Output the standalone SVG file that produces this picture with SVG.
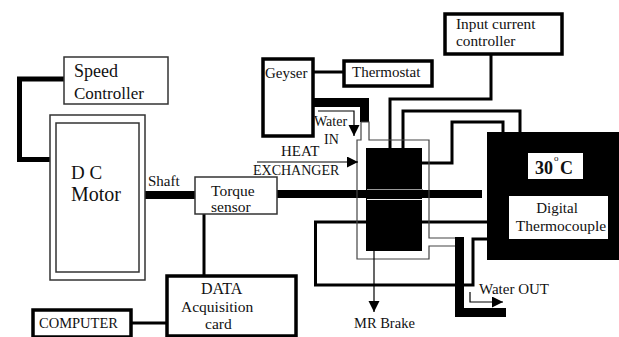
<svg xmlns="http://www.w3.org/2000/svg" width="619" height="337" viewBox="0 0 619 337">
<style>
text{font-family:"Liberation Serif","Times New Roman",serif;fill:#111}
.n{fill:#fff;stroke:#333;stroke-width:1.5}
.b{fill:#fff;stroke:#000;stroke-width:3.5}
.w{fill:none;stroke:#000;stroke-linejoin:miter}
.t{fill:none;stroke:#444;stroke-width:1.2}
.a{fill:none;stroke:#000;stroke-width:1.2}
</style>
<defs>
<marker id="h" markerWidth="12" markerHeight="12" refX="11" refY="5.5" orient="auto" markerUnits="userSpaceOnUse"><path d="M0 0L11 5.5L0 11Z" fill="#000"/></marker>
</defs>
<rect width="619" height="337" fill="#fff"/>
<g id="connectors">
<path class="w" stroke-width="5" d="M64 79H19.500V159.500H50"/>
<path class="w" stroke-width="8" d="M145 195H195M277 194H482"/>
<path class="w" stroke-width="3" d="M204 214V276M131 323H167M313 72H343"/>
<path class="w" stroke-width="3" d="M491 55V99H390V148M403 148V111H520V132M422 163H452V122H503V132"/>
<path class="w" stroke-width="3" d="M487 222H315.500V285H473V239H487"/>
<path class="w" stroke-width="9" d="M313 102.500H364.500V122"/>
<path class="t" d="M361 122H369V140H429V238H455M361 122V140H357V259H429V246H455"/>
<path class="w" stroke-width="9" d="M459.500 237V312.500H506"/>
<path class="a" d="M318 111H354V136" marker-end="url(#h)"/>
<path class="a" d="M257 162H358" marker-end="url(#h)"/>
<path class="a" d="M374 251V312" stroke-width="1.500" marker-end="url(#h)"/>
<path class="a" d="M470 292V302H503" marker-end="url(#h)"/>
</g>
<g id="mr-brake">
<rect x="366" y="148" width="56" height="103" fill="#000"/>
<path d="M367 189.500H423" stroke="#999" stroke-width="1" fill="none"/>
<path d="M367 199.500H422" stroke="#eee" stroke-width="1" fill="none"/>
<text x="354" y="328" font-size="14.500">MR Brake</text>
</g>
<g id="speed-controller">
<rect class="n" x="64" y="57" width="104" height="47"/>
<text x="74" y="77" font-size="18">Speed</text>
<text x="74" y="99" font-size="17">Controller</text>
</g>
<g id="dc-motor">
<rect class="n" x="50" y="115" width="95" height="165"/>
<rect class="n" x="56" y="123" width="83" height="149"/>
<text x="71" y="179" font-size="19">D C</text>
<text x="71" y="201" font-size="20">Motor</text>
<text x="148" y="186" font-size="15">Shaft</text>
</g>
<g id="torque-sensor">
<rect class="n" x="195" y="177" width="82" height="37"/>
<text x="211" y="196" font-size="15.500">Torque</text>
<text x="211" y="212" font-size="15.500">sensor</text>
</g>
<g id="data-card">
<rect class="b" x="167" y="276" width="129" height="60"/>
<text x="201" y="294" font-size="16">DATA</text>
<text x="181" y="312" font-size="15.500">Acquisition</text>
<text x="205" y="329" font-size="15.500">card</text>
</g>
<g id="computer">
<rect class="b" x="33" y="310" width="98" height="27"/>
<text x="39" y="328" font-size="14.500">COMPUTER</text>
</g>
<g id="geyser">
<rect class="b" x="263" y="59" width="50" height="77"/>
<text x="265" y="78" font-size="15">Geyser</text>
</g>
<g id="thermostat">
<rect class="b" x="344" y="61" width="88" height="25"/>
<text x="352" y="77" font-size="15">Thermostat</text>
</g>
<g id="input-current-controller">
<rect class="b" x="445" y="14" width="117" height="40"/>
<text x="456" y="29" font-size="15.300">Input current</text>
<text x="456" y="46" font-size="15.300">controller</text>
</g>
<g id="digital-thermocouple">
<rect x="487" y="132" width="132" height="128" fill="#000"/>
<rect x="528" y="153" width="55" height="26" fill="#fff"/>
<text x="535" y="174" font-size="18" font-weight="bold">30</text>
<text x="554" y="161" font-size="9">o</text>
<text x="560" y="174" font-size="18" font-weight="bold">C</text>
<rect x="509" y="196" width="99" height="43" fill="#fff"/>
<text x="557" y="213" font-size="15" text-anchor="middle">Digital</text>
<text x="561" y="231" font-size="15.500" text-anchor="middle">Thermocouple</text>
</g>
<g id="labels">
<text x="314" y="126" font-size="14">Water</text>
<text x="324" y="144" font-size="14">IN</text>
<text x="281" y="156" font-size="15">HEAT</text>
<text x="253" y="175" font-size="14">EXCHANGER</text>
<text x="479" y="294" font-size="15">Water OUT</text>
</g>
</svg>
